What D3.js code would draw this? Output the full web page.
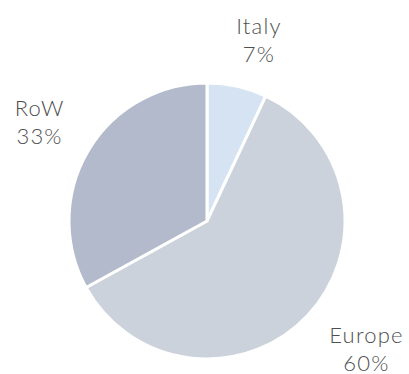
<!DOCTYPE html>
<html>
<head>
<meta charset="utf-8">
<script src="https://cdn.jsdelivr.net/npm/d3@7"></script>
<style>
  html, body { margin: 0; padding: 0; background: #fff; }
  svg text { font-family: "Century Gothic", "Lato", "Noto Sans", sans-serif; }
</style>
</head>
<body>
<svg id="chart" width="409" height="374"></svg>
<script>
const categories = ["Italy", "Europe", "RoW"];
const shares = [7, 60, 33];
const colors = ["#d5e3f3", "#cbd2dc", "#b2bacb"];

const svg = d3.select("#chart");
const cx = 207, cy = 221, radius = 138;
const cornerRadius = 162;              // nearest corner of each label box sits on this circle
const labelTurn = -2.2 * Math.PI / 180; // small anticlockwise turn of the label rays
const fontSize = 22, lineGap = 28, capHeight = 16;

const pie = d3.pie().sort(null).value(d => d.value);
const arcs = pie(categories.map((c, i) => ({ name: c, value: shares[i], color: colors[i] })));

const arc = d3.arc().innerRadius(0).outerRadius(radius);

const g = svg.append("g").attr("transform", `translate(${cx},${cy})`);

g.selectAll("path.slice")
  .data(arcs)
  .join("path")
  .attr("class", "slice")
  .attr("d", arc)
  .attr("fill", d => d.data.color)
  .attr("stroke", "#fff")
  .attr("stroke-width", 3)
  .attr("stroke-linejoin", "round");

const labels = g.selectAll("text.label")
  .data(arcs)
  .join("text")
  .attr("class", "label")
  .attr("text-anchor", "middle")
  .attr("fill", "#4f4f4f")
  .attr("font-size", fontSize)
  .attr("font-weight", 300)
  .attr("letter-spacing", 1.2);

labels.append("tspan").attr("x", 0).attr("dy", 0).text(d => d.data.name);
labels.append("tspan").attr("x", 0).attr("dy", lineGap).text(d => d.data.value + "%");

// Put the label box corner nearest the pie on the slice's mid-angle ray
labels.each(function(d) {
  const w = this.getBBox().width;
  const top = -capHeight, bottom = lineGap;
  const h = bottom - top;
  const a = (d.startAngle + d.endAngle) / 2 + labelTurn;
  const ux = Math.sin(a), uy = -Math.cos(a);
  const cornerX = ux * cornerRadius, cornerY = uy * cornerRadius;
  const centreX = cornerX + Math.sign(ux) * w / 2;
  const centreY = cornerY + Math.sign(uy) * h / 2;
  const ty = centreY - (top + bottom) / 2;
  d3.select(this).attr("transform", `translate(${centreX},${ty})`);
});
</script>
</body>
</html>
